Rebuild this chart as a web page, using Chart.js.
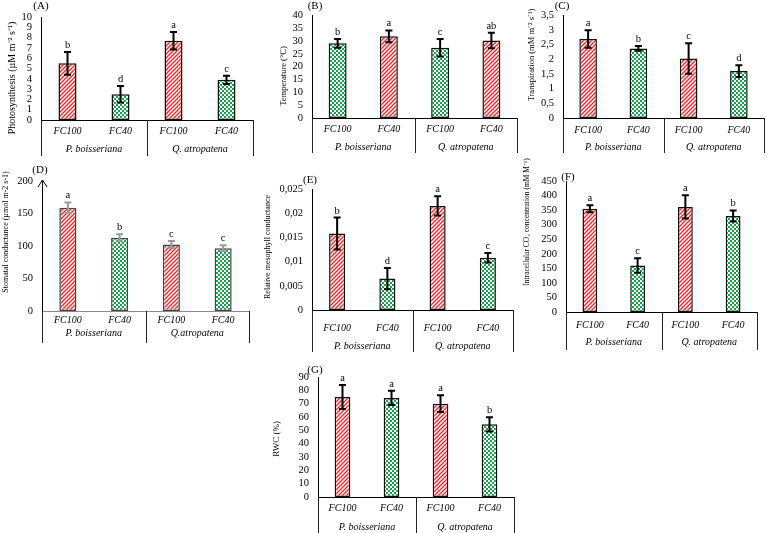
<!DOCTYPE html>
<html lang="en">
<head>
<meta charset="UTF-8" />
<title>Gas exchange panels</title>
<script src="https://cdn.jsdelivr.net/npm/chart.js"></script>
<style>
  body { margin: 0; background: #fff; }
  #wrap { position: relative; width: 767px; height: 533px; overflow: hidden; }
  #wrap canvas { position: absolute; }
</style>
</head>
<body>
<div id="wrap">
  <canvas id="cA"></canvas>
  <canvas id="cB"></canvas>
  <canvas id="cC"></canvas>
  <canvas id="cD"></canvas>
  <canvas id="cE"></canvas>
  <canvas id="cF"></canvas>
  <canvas id="cG"></canvas>
</div>
<script>
// categories
const treatments = ['FC100', 'FC40', 'FC100', 'FC40'];
const species = ['P. boisseriana', 'Q. atropatena'];
const speciesD = ['P. boisseriana', 'Q.atropatena'];

// (A) photosynthesis
const photoMean = [5.5, 2.5, 7.7, 3.9];
const photoErr = [1.1, 0.8, 0.85, 0.4];
const photoSig = ['b', 'd', 'a', 'c'];
// (B) leaf temperature
const tempMean = [29.1, 31.8, 27.4, 30.2];
const tempErr = [1.7, 2.3, 3.4, 3.0];
const tempSig = ['b', 'a', 'c', 'ab'];
// (C) transpiration
const transMean = [2.69, 2.37, 2.03, 1.6];
const transErr = [0.3, 0.08, 0.52, 0.2];
const transSig = ['a', 'b', 'c', 'd'];
// (D) stomatal conductance
const stomMean = [159, 112.5, 102.5, 96.5];
const stomErr = [8, 5.5, 5.3, 4.6];
const stomSig = ['a', 'b', 'c', 'c'];
// (E) relative mesophyll conductance
const mesoMean = [0.0158, 0.0065, 0.0215, 0.0108];
const mesoErr = [0.0033, 0.0022, 0.002, 0.001];
const mesoSig = ['b', 'd', 'a', 'c'];
// (F) intercellular CO2
const ciMean = [355, 160, 361, 330];
const ciErr = [12, 25, 40, 19];
const ciSig = ['a', 'c', 'a', 'b'];
// (G) relative water content
const rwcMean = [75, 74.3, 70, 54.5];
const rwcErr = [9, 5.3, 6.3, 5.3];
const rwcSig = ['a', 'a', 'a', 'b'];

const SERIF = '"Liberation Serif", "Times New Roman", serif';

function stripes() {
  const t = document.createElement('canvas');
  t.width = 4; t.height = 4;
  const g = t.getContext('2d');
  g.fillStyle = '#fff'; g.fillRect(0, 0, 4, 4);
  g.strokeStyle = '#f02a2a'; g.lineWidth = 1.4;
  g.beginPath();
  g.moveTo(-1, 5); g.lineTo(5, -1);
  g.moveTo(-1, 1); g.lineTo(1, -1);
  g.moveTo(3, 5); g.lineTo(5, 3);
  g.stroke();
  return g.createPattern(t, 'repeat');
}
function checks() {
  const t = document.createElement('canvas');
  t.width = 4; t.height = 4;
  const g = t.getContext('2d');
  g.fillStyle = '#fff'; g.fillRect(0, 0, 4, 4);
  g.fillStyle = '#15a04a';
  g.fillRect(0, 0, 2, 2); g.fillRect(2, 2, 2, 2);
  return g.createPattern(t, 'repeat');
}
const RED = stripes();
const GREEN = checks();

function comma(v) {
  return String(+v.toFixed(4)).replace('.', ',');
}

function buildPanel(p) {
  const cv = document.getElementById(p.id);
  cv.width = p.box.w; cv.height = p.box.h;
  cv.style.left = p.box.x + 'px';
  cv.style.top = p.box.y + 'px';
  const ox = p.box.x, oy = p.box.y;

  const decor = {
    id: 'decor',
    afterDatasetsDraw(chart) {
      const ctx = chart.ctx, y = chart.scales.y;
      const meta = chart.getDatasetMeta(0);
      ctx.save();
      ctx.lineWidth = 2;
      ctx.strokeStyle = p.errColor || '#000';
      ctx.fillStyle = '#000';
      ctx.font = '10.5px ' + SERIF;
      ctx.textAlign = 'center';
      ctx.textBaseline = 'alphabetic';
      meta.data.forEach((bar, i) => {
        const top = y.getPixelForValue(p.values[i] + p.errors[i]);
        const bot = y.getPixelForValue(p.values[i] - p.errors[i]);
        ctx.beginPath();
        ctx.moveTo(bar.x, top); ctx.lineTo(bar.x, bot);
        ctx.moveTo(bar.x - 3.5, top); ctx.lineTo(bar.x + 3.5, top);
        ctx.moveTo(bar.x - 3.5, bot); ctx.lineTo(bar.x + 3.5, bot);
        ctx.stroke();
        ctx.fillText(p.letters[i], bar.x, top - 4);
      });
      ctx.restore();
    },
    afterDraw(chart) {
      const ctx = chart.ctx, a = chart.chartArea, x = chart.scales.x;
      const c = treatments.map((_, i) => x.getPixelForValue(i));
      const mid = (c[1] + c[2]) / 2;
      ctx.save();
      ctx.strokeStyle = '#222';
      ctx.lineWidth = 1;
      [a.left, mid, a.right].forEach(px => {
        const xx = Math.round(px) + 0.5;
        ctx.beginPath();
        ctx.moveTo(xx, a.bottom);
        ctx.lineTo(xx, p.lineBottom - oy);
        ctx.stroke();
      });
      ctx.fillStyle = '#000';
      ctx.textAlign = 'center';
      ctx.textBaseline = 'middle';
      ctx.font = 'italic 10px ' + SERIF;
      c.forEach((px, i) => ctx.fillText(treatments[i], px, p.catY - oy));
      ctx.fillText(p.species[0], (a.left + mid) / 2, p.spY - oy);
      ctx.fillText(p.species[1], (mid + a.right) / 2, p.spY - oy);
      ctx.font = '11px ' + SERIF;
      ctx.fillText(p.tag, p.tagX - ox, p.tagY - oy);
      if (p.arrow) {
        ctx.strokeStyle = '#000';
        ctx.beginPath();
        ctx.moveTo(a.left - 4, a.top + 6);
        ctx.lineTo(a.left + 0.5, a.top - 1);
        ctx.lineTo(a.left + 5, a.top + 6);
        ctx.stroke();
      }
      ctx.translate(p.titleX - ox, p.titleY - oy);
      ctx.rotate(-Math.PI / 2);
      ctx.font = p.titleSize + 'px ' + SERIF;
      ctx.fillText(p.title, 0, 0);
      ctx.restore();
    }
  };

  new Chart(cv, {
    type: 'bar',
    data: {
      labels: treatments,
      datasets: [{
        data: p.values,
        backgroundColor: p.fills,
        borderColor: p.barLine || '#111',
        borderWidth: 1.5,
        borderSkipped: false,
        categoryPercentage: 1,
        barPercentage: p.barPct
      }]
    },
    options: {
      responsive: false,
      animation: false,
      layout: {
        padding: { left: 0, top: p.plot.t - oy, right: ox + p.box.w - p.plot.r, bottom: 0 }
      },
      plugins: { legend: { display: false }, tooltip: { enabled: false } },
      scales: {
        x: {
          grid: { display: false, drawTicks: false },
          ticks: { display: false },
          border: { color: p.axisColor || '#000', width: 1 },
          afterFit: s => { s.height = oy + p.box.h - p.plot.b; }
        },
        y: {
          min: 0,
          max: p.max,
          grid: { display: false, drawTicks: false },
          border: { color: '#000', width: 1 },
          ticks: {
            stepSize: p.step,
            autoSkip: false,
            padding: 9,
            color: '#000',
            font: { family: SERIF, size: 10.5 },
            callback: v => p.comma ? comma(v) : String(v)
          },
          afterFit: s => { s.width = p.plot.l - ox; }
        }
      }
    },
    plugins: [decor]
  });
}

const RG = [RED, GREEN, RED, GREEN];
const GR = [GREEN, RED, GREEN, RED];

buildPanel({
  id: 'cA', box: { x: 0, y: 0, w: 258, h: 160 }, plot: { l: 41, t: 17, r: 253, b: 120 },
  values: photoMean, errors: photoErr, letters: photoSig, fills: RG, barPct: 0.34,
  max: 10, step: 1, catY: 131, spY: 149, lineBottom: 156, species: species,
  tag: '(A)', tagX: 41, tagY: 6,
  title: 'Photosynthesis (µM m⁻² s⁻¹)', titleX: 12, titleY: 78, titleSize: 10
});
buildPanel({
  id: 'cB', box: { x: 258, y: 0, w: 262, h: 160 }, plot: { l: 312, t: 12, r: 517, b: 118 },
  values: tempMean, errors: tempErr, letters: tempSig, fills: GR, barPct: 0.35,
  max: 40, step: 5, catY: 129, spY: 147, lineBottom: 153, species: species,
  tag: '(B)', tagX: 315, tagY: 6,
  title: 'Temperature (°C)', titleX: 284, titleY: 76, titleSize: 8.5
});
buildPanel({
  id: 'cC', box: { x: 520, y: 0, w: 247, h: 160 }, plot: { l: 563, t: 15, r: 764, b: 118 },
  values: transMean, errors: transErr, letters: transSig, fills: RG, barPct: 0.35, comma: true,
  max: 3.5, step: 0.5, catY: 130, spY: 147, lineBottom: 153, species: species,
  tag: '(C)', tagX: 562, tagY: 6,
  title: 'Transpiration (mM m⁻² s⁻¹)', titleX: 532, titleY: 55, titleSize: 8.5
});
buildPanel({
  id: 'cD', box: { x: 0, y: 160, w: 256, h: 190 }, plot: { l: 42, t: 181, r: 249, b: 311 },
  values: stomMean, errors: stomErr, letters: stomSig, fills: RG, barPct: 0.33,
  barLine: '#444', errColor: '#9a9a9a', axisColor: '#8a8a8a', arrow: true,
  max: 200, step: 50, catY: 320, spY: 333, lineBottom: 343, species: speciesD,
  tag: '(D)', tagX: 40, tagY: 170,
  title: 'Stomatal conductance (µmol m-2 s-1)', titleX: 6, titleY: 232, titleSize: 8
});
buildPanel({
  id: 'cE', box: { x: 256, y: 160, w: 262, h: 196 }, plot: { l: 312, t: 189, r: 513, b: 310 },
  values: mesoMean, errors: mesoErr, letters: mesoSig, fills: RG, barPct: 0.32, comma: true,
  max: 0.025, step: 0.005, catY: 328, spY: 346, lineBottom: 352, species: species,
  tag: '(E)', tagX: 310, tagY: 180,
  title: 'Relative mesophyll conductance', titleX: 268, titleY: 247, titleSize: 8
});
buildPanel({
  id: 'cF', box: { x: 518, y: 148, w: 249, h: 204 }, plot: { l: 566, t: 181, r: 757, b: 312 },
  values: ciMean, errors: ciErr, letters: ciSig, fills: RG, barPct: 0.31,
  max: 450, step: 50, catY: 325, spY: 342, lineBottom: 350, species: species,
  tag: '(F)', tagX: 568, tagY: 177,
  title: 'Intracellular CO₂ concentration (mM M⁻¹)', titleX: 527, titleY: 222, titleSize: 7.5
});
buildPanel({
  id: 'cG', box: { x: 262, y: 352, w: 262, h: 181 }, plot: { l: 318, t: 377, r: 514, b: 497 },
  values: rwcMean, errors: rwcErr, letters: rwcSig, fills: RG, barPct: 0.32,
  max: 90, step: 10, catY: 508, spY: 527, lineBottom: 533, species: species,
  tag: '(G)', tagX: 315, tagY: 370,
  title: 'RWC (%)', titleX: 277, titleY: 439, titleSize: 9
});
</script>
</body>
</html>
